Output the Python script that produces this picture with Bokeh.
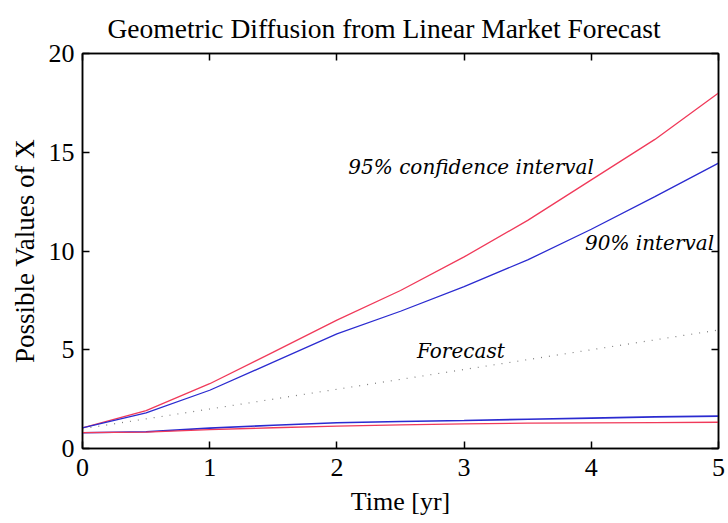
from bokeh.plotting import figure
from bokeh.models import Range1d, LinearAxis, FixedTicker, ColumnDataSource
from bokeh.embed import file_html
from bokeh.resources import INLINE
from bokeh.core.properties import value

# ---- data ----
time_yr = [0.0, 0.5, 1.0, 1.5, 2.0, 2.5, 3.0, 3.5, 4.0, 4.5, 5.0]
upper_95 = [1.05, 1.92, 3.28, 4.88, 6.5, 8.0, 9.7, 11.55, 13.6, 15.65, 18.0]
upper_90 = [1.05, 1.80, 2.95, 4.37, 5.8, 6.95, 8.2, 9.55, 11.1, 12.75, 14.45]
forecast = [1.0, 1.5, 2.0, 2.5, 3.0, 3.5, 4.0, 4.5, 5.0, 5.5, 6.0]
lower_90 = [0.80, 0.85, 1.03, 1.18, 1.30, 1.37, 1.42, 1.48, 1.54, 1.60, 1.64]
lower_95 = [0.80, 0.83, 0.96, 1.05, 1.13, 1.20, 1.25, 1.28, 1.30, 1.31, 1.33]

x_ticks = [0, 1, 2, 3, 4, 5]
y_ticks = [0, 5, 10, 15, 20]

note_text = ["95% confidence interval", "90% interval", "Forecast"]
note_x = [2.09, 3.95, 2.63]
note_y = [14.23, 10.38, 4.96]

RED = "#f03a5a"
BLUE = "#2b2bd0"
SERIF = "Liberation Serif"

p = figure(width=728, height=523, output_backend="svg", toolbar_location=None,
           x_range=Range1d(0, 5), y_range=Range1d(0, 20),
           min_border_left=82, min_border_right=10, min_border_top=53,
           min_border_bottom=75)
p.background_fill_color = "white"
p.border_fill_color = "white"
p.outline_line_color = "black"
p.outline_line_width = 1.5
p.grid.visible = False

p.title.text = "Geometric Diffusion from Linear Market Forecast"
p.title.text_font = SERIF
p.title.text_font_size = "27.5px"
p.title.text_font_style = "normal"
p.title.text_color = "black"
p.title.align = "left"
p.title.offset = 25
p.title.standoff = 19

for ax in (p.xaxis[0], p.yaxis[0]):
    ax.axis_line_color = "black"
    ax.axis_line_width = 1.5
    ax.major_tick_in = 7
    ax.major_tick_out = 0
    ax.minor_tick_in = 0
    ax.minor_tick_out = 0
    ax.major_tick_line_width = 1.5
    ax.major_label_text_font = SERIF
    ax.major_label_text_font_size = "26px"
    ax.major_label_text_color = "black"
    ax.axis_label_text_font = SERIF
    ax.axis_label_text_font_style = "normal"
    ax.axis_label_text_color = "black"

p.xaxis.ticker = FixedTicker(ticks=x_ticks)
p.yaxis.ticker = FixedTicker(ticks=y_ticks)
p.xaxis.axis_label = "Time [yr]"
p.yaxis.axis_label = "Possible Values of X"
p.xaxis.axis_label_text_font_size = "26px"
p.yaxis.axis_label_text_font_size = "27px"
p.xaxis.major_label_standoff = 10
p.yaxis.major_label_standoff = 8
p.xaxis.axis_label_standoff = 8
p.yaxis.axis_label_standoff = 6

# box ticks on top and right
top_ax = LinearAxis(ticker=FixedTicker(ticks=x_ticks))
right_ax = LinearAxis(ticker=FixedTicker(ticks=y_ticks))
for ax in (top_ax, right_ax):
    ax.axis_line_color = "black"
    ax.axis_line_width = 1.5
    ax.major_tick_in = 7
    ax.major_tick_out = 0
    ax.minor_tick_in = 0
    ax.minor_tick_out = 0
    ax.major_tick_line_width = 1.5
    ax.major_label_text_font_size = "0px"
    ax.major_label_standoff = 0
    ax.major_label_text_color = None
p.add_layout(top_ax, "above")
p.add_layout(right_ax, "right")

p.line(time_yr, upper_95, line_color=RED, line_width=1.3)
p.line(time_yr, upper_90, line_color=BLUE, line_width=1.3)
p.line(time_yr, forecast, line_color="#808080", line_width=1.2, line_dash="1 7")
p.line(time_yr, lower_90, line_color=BLUE, line_width=1.6)
p.line(time_yr, lower_95, line_color=RED, line_width=1.3)

notes = ColumnDataSource(dict(x=note_x, y=note_y, t=note_text))
p.text(x="x", y="y", text="t", source=notes, text_font=value("DejaVu Serif"),
       text_font_style="italic", text_font_size="20px", text_color="black",
       text_baseline="middle", text_align="left")

open("out.html", "w").write(file_html(p, INLINE))
